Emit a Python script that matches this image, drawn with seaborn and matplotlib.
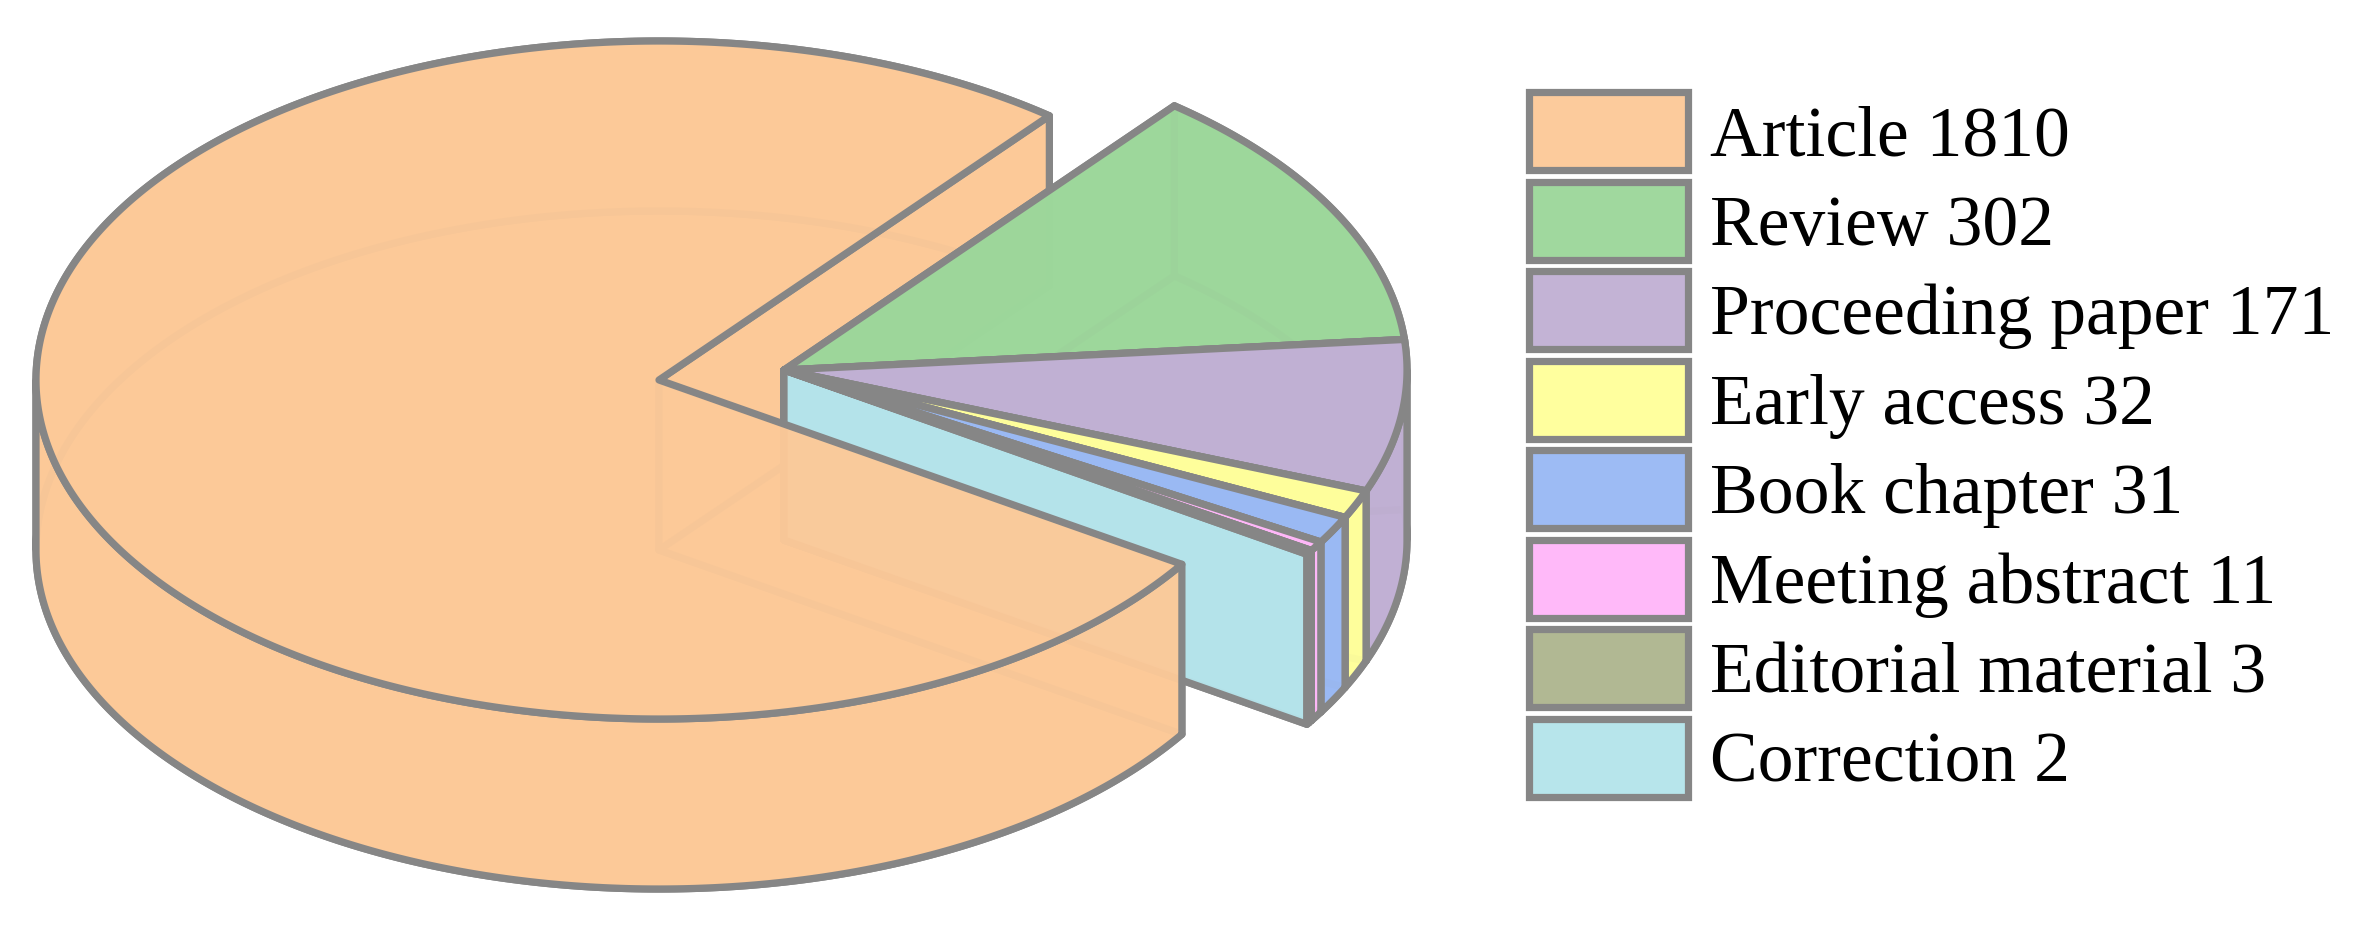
import numpy as np
import matplotlib
matplotlib.use('Agg')
import matplotlib.pyplot as plt
from matplotlib.colors import to_rgba
from matplotlib.patches import Patch, Polygon
import seaborn as sns

categories = ['Article', 'Review', 'Proceeding paper', 'Early access', 'Book chapter',
              'Meeting abstract', 'Editorial material', 'Correction']
counts = [1810, 302, 171, 32, 31, 11, 3, 2]
colors = ['#FCC998', '#9DD79B', '#C1B0D4', '#FFFF9B', '#9AB9F4', '#FFB7F9', '#AEB68F', '#B5E4EB']

sns.set_theme(style='white')
plt.rcParams['font.family'] = ['Liberation Serif']

FILL_ALPHA = 0.965
EDGE = '#868686'
LW = 5.2
RX, RY, DEPTH = 623, 339, 170
CENTER_MAIN = (659, 380)
CENTER_REST = (784, 370)
START_ANGLE = 51.2


def arc(c, a1, a2, dy=0):
    t = np.radians(np.linspace(a1, a2, max(int(abs(a2 - a1) * 4), 2)))
    return np.column_stack([c[0] + RX * np.cos(t), c[1] + dy - RY * np.sin(t)])


def face(ax, pts, color, z):
    ax.add_patch(Polygon(pts, closed=True, facecolor=to_rgba(color, FILL_ALPHA), edgecolor=EDGE,
                         linewidth=LW, joinstyle='round', zorder=z))


def radial_wall(c, a):
    p = arc(c, a, a + 0.001)[0]
    return [c, p, (p[0], p[1] + DEPTH), (c[0], c[1] + DEPTH)]


def outer_wall(c, a1, a2):
    return np.vstack([arc(c, a1, a2), arc(c, a2, a1, DEPTH)])


def split_outer(lo, hi):
    # pieces of the rim, cut where it turns away from the viewer
    cuts = [x for x in (-360, -180, 0, 180, 360) if lo < x < hi]
    edges = [lo] + cuts + [hi]
    back, front = [], []
    for a, b in zip(edges[:-1], edges[1:]):
        (back if np.sin(np.radians((a + b) / 2)) > 0 else front).append((a, b))
    return back, front


def slice_faces(c, lo, hi):
    # back half (bottom, far rim, radial walls) and front half (near rim, lid)
    back, front = split_outer(lo, hi)
    under = [np.vstack([[(c[0], c[1] + DEPTH)], arc(c, lo, hi, DEPTH)])]
    under += [outer_wall(c, a, b) for a, b in back]
    under += [radial_wall(c, hi), radial_wall(c, lo)]
    over = [outer_wall(c, a, b) for a, b in front]
    over.append(np.vstack([[c], arc(c, lo, hi)]))
    return under, over


fig = plt.figure(figsize=(23.65, 9.25), dpi=100)
ax = fig.add_axes([0, 0, 1, 1])
ax.set_xlim(0, 2365)
ax.set_ylim(925, 0)
ax.axis('off')

sweeps = np.array(counts) / np.sum(counts) * 360

z = 1
# Article is split in two: the other slices sit between its walls and its lid
article_under, article_over = slice_faces(CENTER_MAIN, START_ANGLE, START_ANGLE + sweeps[0])
for pts in article_under:
    face(ax, pts, colors[0], z)
    z += 1

angle = START_ANGLE
for i in range(1, len(counts)):
    under, over = slice_faces(CENTER_REST, angle - sweeps[i], angle)
    for pts in under + over:
        face(ax, pts, colors[i], z)
        z += 1
    angle -= sweeps[i]

for pts in article_over:
    face(ax, pts, colors[0], z)
    z += 1

handles = [Patch(facecolor=to_rgba(c, FILL_ALPHA), edgecolor=EDGE, linewidth=LW) for c in colors]
labels = [f'{n} {v}' for n, v in zip(categories, counts)]
ax.legend(handles, labels, loc='upper left', bbox_to_anchor=(1529 / 2365, 1 - 92 / 925),
          bbox_transform=fig.transFigure, frameon=False, fontsize=51.6, borderpad=0, borderaxespad=0,
          handlelength=2.22, handleheight=1.297, handletextpad=0.3, labelspacing=0.161, labelcolor='black')

plt.savefig('out.png', dpi=100)
